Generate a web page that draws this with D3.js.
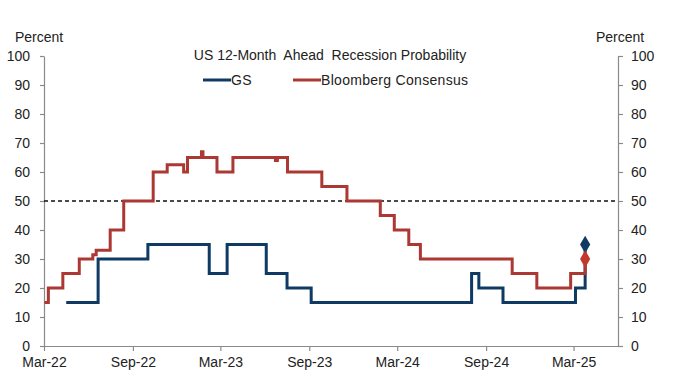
<!DOCTYPE html>
<html>
<head>
<meta charset="utf-8">
<script src="https://cdn.jsdelivr.net/npm/d3@7"></script>
<style>
  body { margin: 0; background: #fff; }
  text { font-family: Arial, "Liberation Sans", sans-serif; fill: #222; }
</style>
</head>
<body>
<div id="chart"></div>
<script>
// step series, value holds until the next date
var gsDates = ["2022-04-16","2022-06-21","2022-10-02","2023-02-06","2023-03-15","2023-06-04","2023-07-17","2023-09-05","2024-08-02","2024-08-17","2024-10-06","2025-03-05","2025-03-25"];
var gsValues = [15,30,35,25,35,25,20,15,25,20,15,20,35];

var bbgDates = ["2022-03-02","2022-03-10","2022-04-09","2022-05-13","2022-06-10","2022-06-17","2022-07-16","2022-08-13","2022-10-13","2022-11-11","2022-12-15","2022-12-23","2023-01-21","2023-01-24","2023-02-22","2023-03-27","2023-06-23","2023-06-27","2023-07-18","2023-09-27","2023-11-18","2024-01-26","2024-02-24","2024-03-25","2024-04-18","2024-10-25","2024-12-15","2025-02-23","2025-03-25"];
var bbgValues = [15,20,25,30,31.5,33,40,50,60,62.5,60,65,67,65,60,65,64,65,60,55,50,45,40,35,30,25,20,25,30];

var yTicks = [0,10,20,30,40,50,60,70,80,90,100];
var xTicks = ["2022-03-01","2022-09-01","2023-03-01","2023-09-01","2024-03-01","2024-09-01","2025-03-01"];
var threshold = 50;

var W = 680, H = 383;
var margin = {top: 56, right: 62, bottom: 37, left: 44};
var parse = d3.timeParse("%Y-%m-%d");
var fs = "14px";

var svg = d3.select("#chart").append("svg").attr("width", W).attr("height", H);

var x = d3.scaleTime().domain([parse("2022-03-01"), parse("2025-06-01")]).range([margin.left, W - margin.right]);
var y = d3.scaleLinear().domain([0, 100]).range([H - margin.bottom, margin.top]);

var gs = gsDates.map(function(d, i) { return {date: parse(d), value: gsValues[i]}; });
var bbg = bbgDates.map(function(d, i) { return {date: parse(d), value: bbgValues[i]}; });

// axes
var gray = "#8a8a8a";
var left = svg.append("g").attr("transform", "translate(" + margin.left + ",0)")
  .call(d3.axisLeft(y).tickValues(yTicks).tickSizeInner(4).tickSizeOuter(0).tickPadding(10));
var right = svg.append("g").attr("transform", "translate(" + (W - margin.right) + ",0)")
  .call(d3.axisRight(y).tickValues(yTicks).tickSizeInner(5).tickSizeOuter(0).tickPadding(8));
var bottom = svg.append("g").attr("transform", "translate(0," + (H - margin.bottom) + ")")
  .call(d3.axisBottom(x).tickValues(xTicks.map(parse)).tickFormat(d3.timeFormat("%b-%y")).tickSizeInner(5).tickSizeOuter(0).tickPadding(6));

[left, right, bottom].forEach(function(g) {
  g.selectAll("path, line").attr("stroke", gray).attr("stroke-width", 1.2);
  g.selectAll("text").style("font-size", fs).attr("fill", "#222");
});

svg.append("text").attr("x", 15).attr("y", 42).text("Percent").style("font-size", fs);
svg.append("text").attr("x", 596).attr("y", 42).text("Percent").style("font-size", fs);

// 50% line
svg.append("line").attr("x1", margin.left).attr("x2", W - margin.right)
  .attr("y1", y(threshold)).attr("y2", y(threshold))
  .attr("stroke", "#111").attr("stroke-width", 1.3).attr("stroke-dasharray", "4,3");

var line = d3.line().curve(d3.curveStepAfter)
  .x(function(d) { return x(d.date); })
  .y(function(d) { return y(d.value); });

var blue = "#0e3a63", red = "#ac3834";

svg.append("path").datum(gs).attr("d", line).attr("fill", "none").attr("stroke", blue).attr("stroke-width", 3);
svg.append("path").datum(bbg).attr("d", line).attr("fill", "none").attr("stroke", red).attr("stroke-width", 3);

var diamond = d3.symbol().type(d3.symbolDiamond).size(90);
[[gs, blue], [bbg, "#c0392b"]].forEach(function(s) {
  var last = s[0][s[0].length - 1];
  svg.append("path").attr("d", diamond)
    .attr("transform", "translate(" + x(last.date) + "," + y(last.value) + ")")
    .attr("fill", s[1]);
});

// title + legend
svg.append("text").attr("x", 330).attr("y", 60).attr("text-anchor", "middle")
  .style("font-size", fs).style("white-space", "pre").text("US 12-Month  Ahead  Recession Probability");

var legend = [["GS", blue, 203], ["Bloomberg Consensus", red, 293]];
legend.forEach(function(l) {
  svg.append("line").attr("x1", l[2]).attr("x2", l[2] + 28).attr("y1", 80).attr("y2", 80)
    .attr("stroke", l[1]).attr("stroke-width", 3);
  svg.append("text").attr("x", l[2] + 28).attr("y", 85).style("font-size", fs)
    .style("letter-spacing", "0.3px").text(l[0]);
});
</script>
</body>
</html>
